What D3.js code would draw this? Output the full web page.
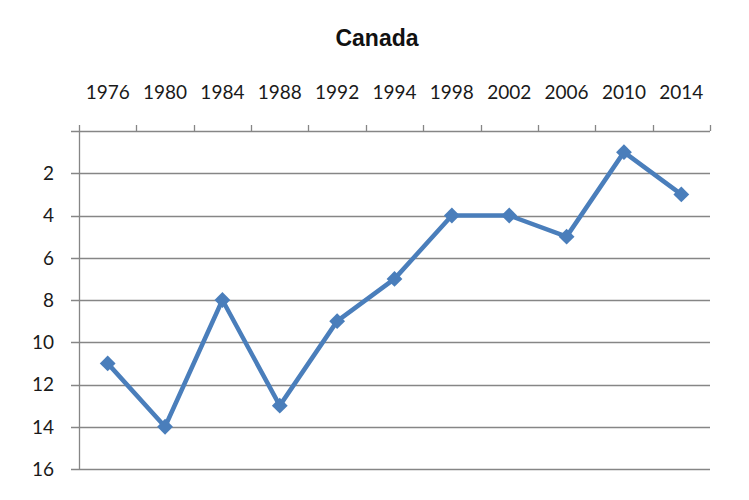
<!DOCTYPE html>
<html>
<head>
<meta charset="utf-8">
<script src="https://cdn.jsdelivr.net/npm/d3@7"></script>
<style>
  body { margin: 0; background: #fff; }
</style>
</head>
<body>
<svg id="chart"></svg>
<script>
// data
var years = ['1976', '1980', '1984', '1988', '1992', '1994', '1998', '2002', '2006', '2010', '2014'];
var ranks = [11, 14, 8, 13, 9, 7, 4, 4, 5, 1, 3];
var yTicks = [2, 4, 6, 8, 10, 12, 14, 16];

var width = 749, height = 500;
var margin = {left: 79, right: 39, top: 131, bottom: 31};

var svg = d3.select("#chart")
    .attr("width", width)
    .attr("height", height);

var x = d3.scaleBand()
    .domain(years)
    .range([margin.left, width - margin.right]);

var y = d3.scaleLinear()
    .domain([0, 16])
    .range([margin.top, height - margin.bottom]);

// title
svg.append("text")
    .attr("x", 377)
    .attr("y", 46)
    .attr("text-anchor", "middle")
    .style("font-family", "Liberation Sans, Arial, sans-serif")
    .style("font-weight", "bold")
    .style("font-size", "23px")
    .attr("fill", "#111")
    .text("Canada");

// gridlines (incl. the top axis at 0)
svg.append("g")
    .selectAll("line")
    .data([0].concat(yTicks))
    .enter().append("line")
    .attr("x1", margin.left - 8)
    .attr("x2", width - margin.right)
    .attr("y1", function(d) { return Math.round(y(d)) + 0.5; })
    .attr("y2", function(d) { return Math.round(y(d)) + 0.5; })
    .attr("stroke", "#868686")
    .attr("stroke-width", 1.3);

// left axis line
svg.append("line")
    .attr("x1", margin.left + 0.5)
    .attr("x2", margin.left + 0.5)
    .attr("y1", margin.top - 6)
    .attr("y2", y(16))
    .attr("stroke", "#868686")
    .attr("stroke-width", 1.3);

// top axis: ticks at band boundaries
var bounds = years.map(function(d) { return x(d); }).concat([x.range()[1]]);
svg.append("g")
    .selectAll("line")
    .data(bounds.slice(1))
    .enter().append("line")
    .attr("x1", function(d) { return Math.round(d) + 0.5; })
    .attr("x2", function(d) { return Math.round(d) + 0.5; })
    .attr("y1", margin.top - 6)
    .attr("y2", margin.top)
    .attr("stroke", "#868686")
    .attr("stroke-width", 1.3);

// x labels
svg.append("g")
    .style("font-family", "Lato, 'Open Sans', sans-serif")
    .style("font-size", "19px")
    .attr("fill", "#1a1a1a")
    .attr("text-anchor", "middle")
    .selectAll("text")
    .data(years)
    .enter().append("text")
    .attr("x", function(d) { return x(d) + x.bandwidth() / 2; })
    .attr("y", 99)
    .text(function(d) { return d; });

// y labels
svg.append("g")
    .style("font-family", "Lato, 'Open Sans', sans-serif")
    .style("font-size", "19px")
    .attr("fill", "#1a1a1a")
    .attr("text-anchor", "end")
    .selectAll("text")
    .data(yTicks)
    .enter().append("text")
    .attr("x", 54)
    .attr("y", function(d) { return y(d); })
    .attr("dy", "0.36em")
    .text(function(d) { return d; });

// line
var pts = years.map(function(d, i) { return [x(d) + x.bandwidth() / 2, y(ranks[i])]; });

svg.append("path")
    .datum(pts)
    .attr("fill", "none")
    .attr("stroke", "#4a7ebb")
    .attr("stroke-width", 4.5)
    .attr("stroke-linejoin", "round")
    .attr("d", d3.line());

// diamond markers
svg.append("g")
    .selectAll("path")
    .data(pts)
    .enter().append("path")
    .attr("transform", function(d) { return "translate(" + d[0] + "," + d[1] + ") rotate(45)"; })
    .attr("d", d3.symbol().type(d3.symbolSquare).size(125))
    .attr("fill", "#4a7ebb");
</script>
</body>
</html>
